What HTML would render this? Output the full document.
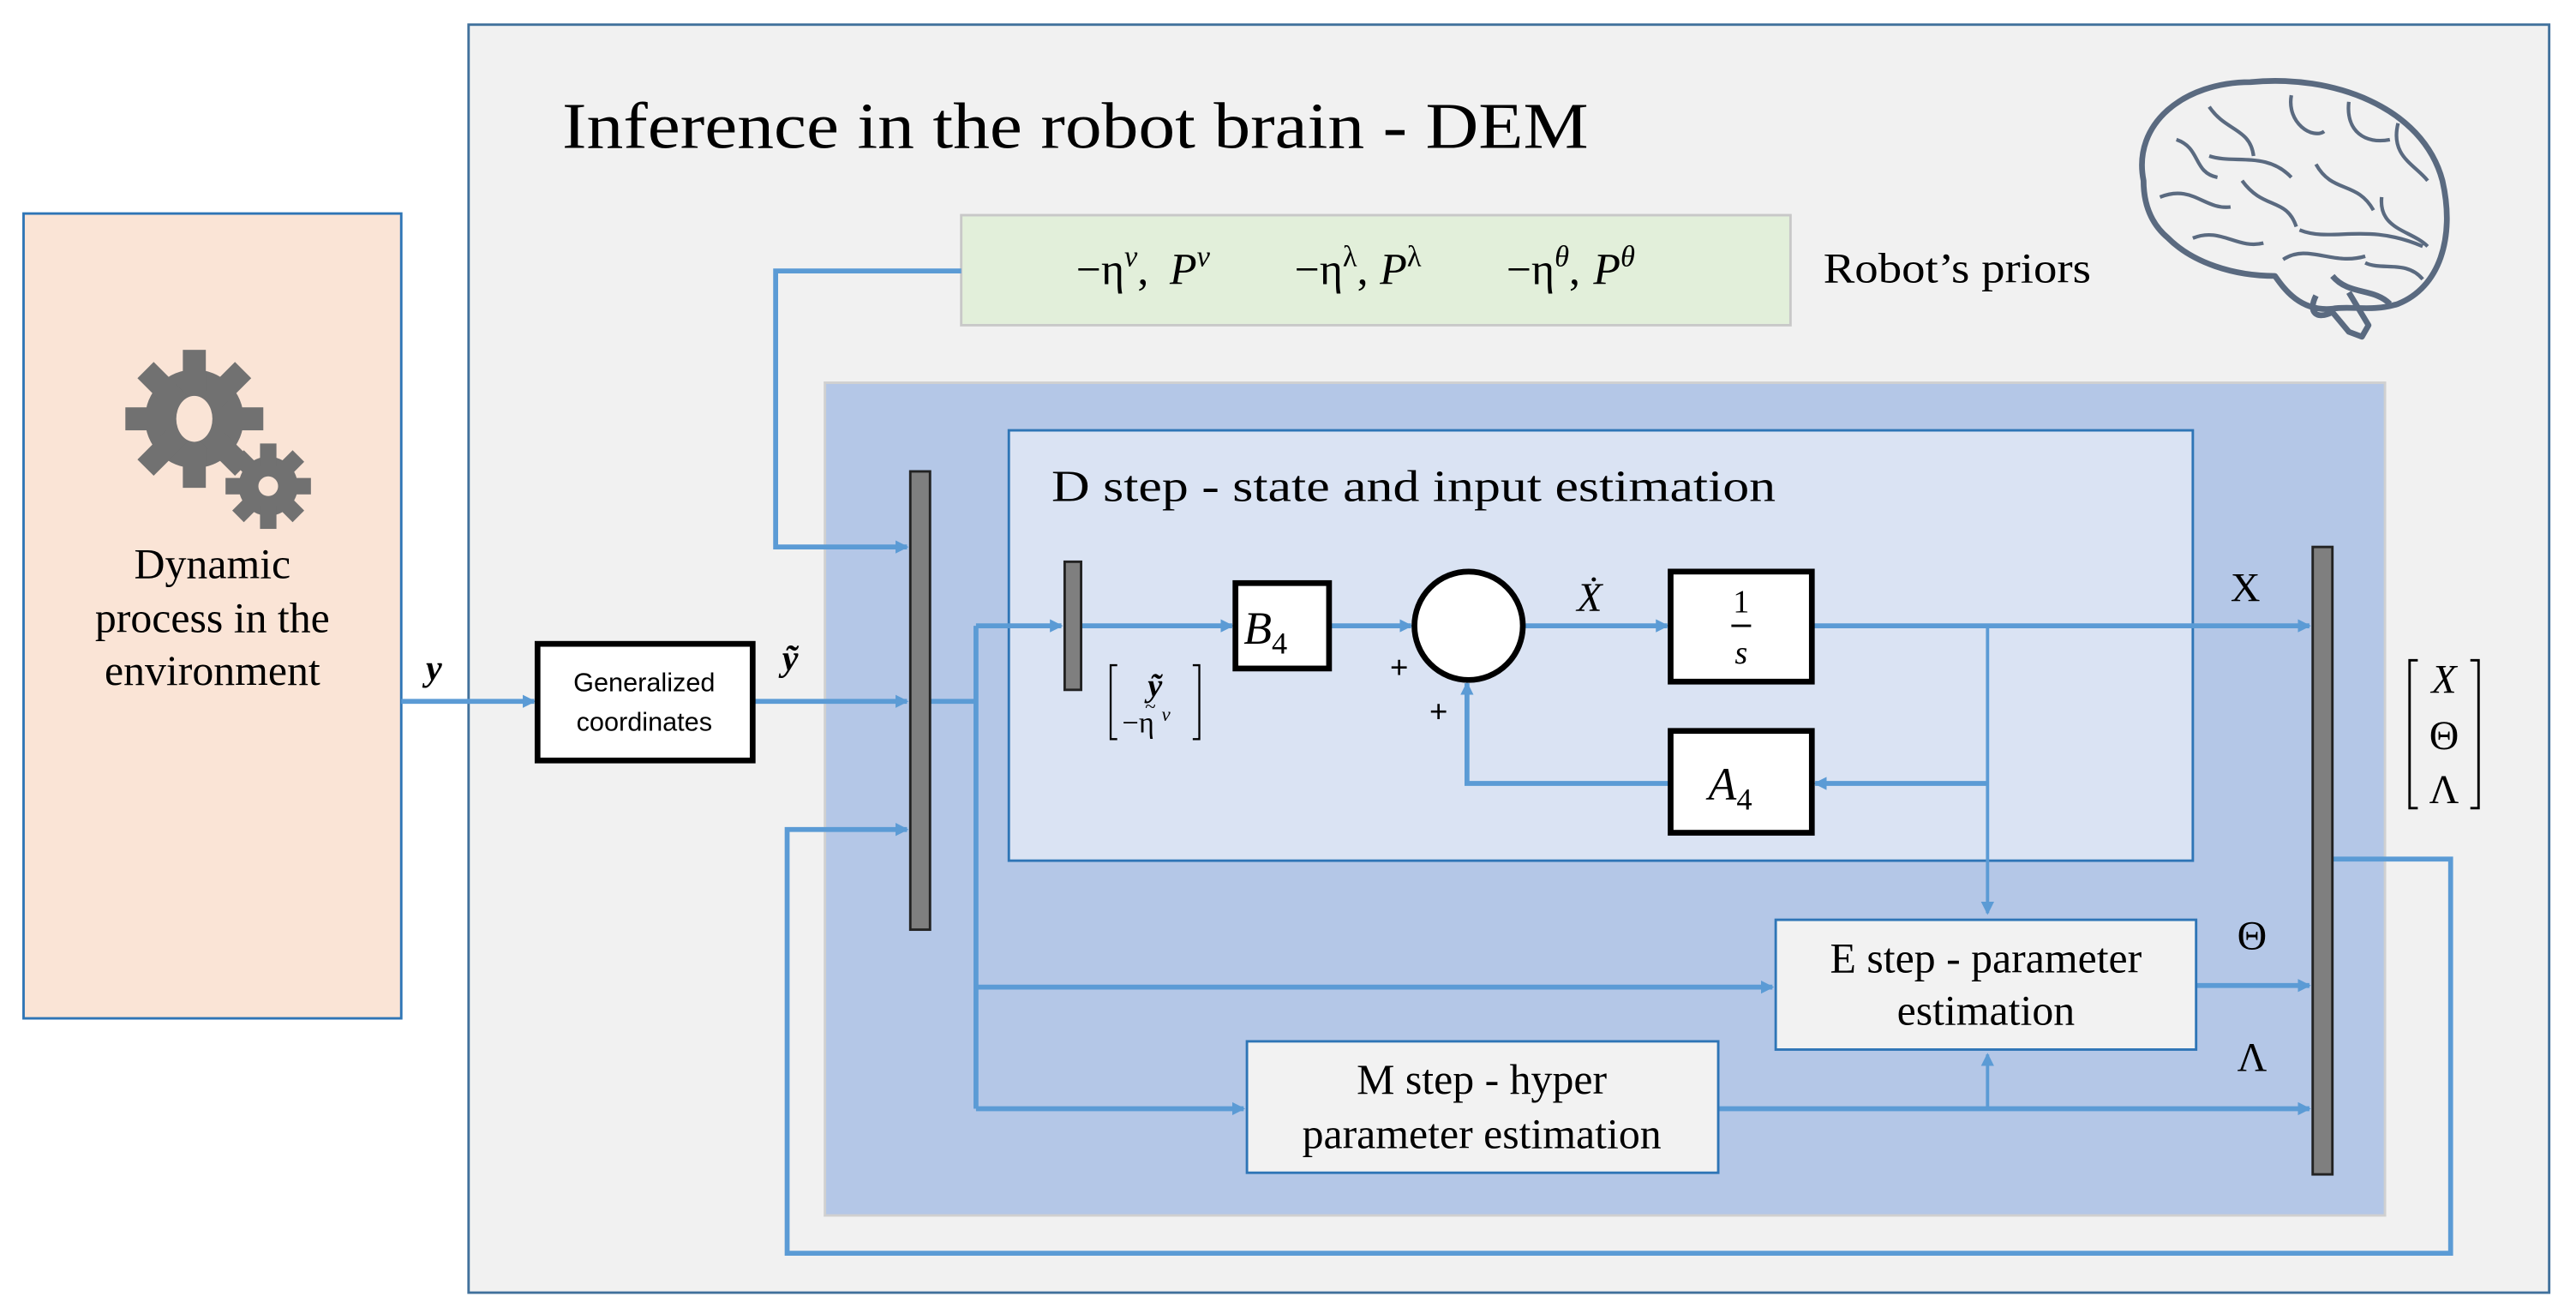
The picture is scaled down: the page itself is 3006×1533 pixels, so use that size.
<!DOCTYPE html>
<html><head><meta charset="utf-8"><style>
html,body{margin:0;padding:0;background:#fff}
svg{display:block}
text{font-family:"Liberation Serif",serif;fill:#000}
.s{font-family:"Liberation Sans",sans-serif}
</style></head><body>
<svg width="3006" height="1533" viewBox="0 0 1568 800" xmlns="http://www.w3.org/2000/svg">
<defs>
<marker id="a" markerWidth="8" markerHeight="8" refX="7" refY="4" orient="auto" markerUnits="userSpaceOnUse"><path d="M0,0 L8,4 L0,8 z" fill="#5b9bd5"/></marker>
</defs>
<rect x="14" y="130" width="230" height="490" fill="#fae4d6" stroke="#2e75b6" stroke-width="1.5"/>
<g fill="#717171">
<circle cx="118" cy="255" r="30"/>
<g transform="translate(118,255)">
<rect x="-7" y="-42" width="14" height="84"/><rect x="-7" y="-42" width="14" height="84" transform="rotate(45)"/><rect x="-7" y="-42" width="14" height="84" transform="rotate(90)"/><rect x="-7" y="-42" width="14" height="84" transform="rotate(135)"/>
</g>
<circle cx="163" cy="296" r="18"/>
<g transform="translate(163,296)">
<rect x="-5" y="-26" width="10" height="52"/><rect x="-5" y="-26" width="10" height="52" transform="rotate(45)"/><rect x="-5" y="-26" width="10" height="52" transform="rotate(90)"/><rect x="-5" y="-26" width="10" height="52" transform="rotate(135)"/>
</g>
</g>
<ellipse cx="118" cy="255" rx="11" ry="14" fill="#fae4d6"/>
<circle cx="163" cy="296" r="6" fill="#fae4d6"/>
<text x="129" y="352" font-size="26" text-anchor="middle">Dynamic</text>
<text x="129" y="385" font-size="26" text-anchor="middle">process in the</text>
<text x="129" y="417" font-size="26" text-anchor="middle">environment</text>
<rect x="285" y="15" width="1267" height="772" fill="#f1f1f1" stroke="#41719c" stroke-width="1.5"/>
<text x="342" y="90" font-size="40" textLength="625" lengthAdjust="spacingAndGlyphs">Inference in the robot brain - DEM</text>
<g fill="none" stroke="#5a6a80" stroke-width="3.5" stroke-linejoin="round">
<path d="M1305,110 C1298,75 1330,50 1370,50 C1420,45 1475,65 1487,110 C1495,145 1485,175 1460,185 C1445,190 1430,186 1420,188 C1400,190 1390,175 1385,168 C1360,168 1335,160 1320,145 C1308,135 1305,122 1305,110 Z"/>
<path d="M1410,180 C1405,190 1410,195 1420,190 L1430,202 L1438,205 L1442,198 L1430,178"/>
<path d="M1420,168 C1430,180 1445,175 1455,185"/>
</g>
<g fill="none" stroke="#5a6a80" stroke-width="2.2">
<path d="M1325,85 C1340,90 1335,105 1350,108 M1345,65 C1355,80 1370,78 1372,95 M1395,58 C1392,75 1408,85 1415,80 M1430,62 C1428,80 1440,88 1455,85 M1460,75 C1455,95 1470,100 1478,110 M1315,120 C1335,112 1342,128 1358,126 M1365,110 C1378,128 1392,120 1398,138 M1410,100 C1420,118 1435,110 1445,128 M1450,120 C1448,140 1468,140 1478,150 M1335,145 C1352,138 1362,152 1378,148 M1390,158 C1405,148 1420,162 1440,156 M1400,140 C1420,148 1440,135 1475,150 M1345,95 C1360,100 1380,92 1395,108 M1440,160 C1450,165 1465,158 1475,170"/>
</g>
<rect x="585" y="131" width="505" height="67" fill="#e2efda" stroke="#c8c8c8" stroke-width="1.5"/>
<text x="655" y="173" font-size="27">−η<tspan font-style="italic" font-size="18" dy="-11">v</tspan><tspan dy="11">,</tspan></text>
<text x="712" y="173" font-size="27" font-style="italic">P<tspan font-size="18" dy="-11">v</tspan></text>
<text x="788" y="173" font-size="27">−η<tspan font-size="18" dy="-11">λ</tspan><tspan dy="11">,</tspan></text>
<text x="840" y="173" font-size="27" font-style="italic">P<tspan font-size="18" font-style="normal" dy="-11">λ</tspan></text>
<text x="917" y="173" font-size="27">−η<tspan font-style="italic" font-size="18" dy="-11">θ</tspan><tspan dy="11">,</tspan></text>
<text x="970" y="173" font-size="27" font-style="italic">P<tspan font-size="18" dy="-11">θ</tspan></text>
<text x="1110" y="172" font-size="26" textLength="163" lengthAdjust="spacingAndGlyphs">Robot’s priors</text>
<rect x="502" y="233" width="950" height="507" fill="#b4c7e7" stroke="#d0d0d0" stroke-width="1.5"/>
<rect x="614" y="262" width="721" height="262" fill="#dae3f3" stroke="#2e75b6" stroke-width="1.5"/>
<text x="640" y="305" font-size="27" textLength="441" lengthAdjust="spacingAndGlyphs">D step - state and input estimation</text>
<g stroke="#5b9bd5" stroke-width="3" fill="none">
<path d="M244,427 H325" marker-end="url(#a)"/>
<path d="M458,427 H552" marker-end="url(#a)"/>
<path d="M566,427 H594"/>
<path d="M594,381 V675"/>
<path d="M594,381 H646" marker-end="url(#a)"/>
<path d="M658,381 H750" marker-end="url(#a)"/>
<path d="M809,381 H859" marker-end="url(#a)"/>
<path d="M927,381 H1015" marker-end="url(#a)"/>
<path d="M1103,381 H1406" marker-end="url(#a)"/>
<path d="M1210,381 V556" stroke-width="2" marker-end="url(#a)"/>
<path d="M1210,477 H1105" marker-end="url(#a)"/>
<path d="M1017,477 H893 V416" marker-end="url(#a)"/>
<path d="M594,601 H1079" marker-end="url(#a)"/>
<path d="M1337,600 H1406" marker-end="url(#a)"/>
<path d="M594,675 H757" marker-end="url(#a)"/>
<path d="M1046,675 H1406" marker-end="url(#a)"/>
<path d="M1210,675 V642" stroke-width="2" marker-end="url(#a)"/>
<path d="M585,165 H472 V333 H552" marker-end="url(#a)"/>
<path d="M1420,523 H1492 V763 H479 V505 H552" marker-end="url(#a)"/>
</g>
<rect x="554" y="287" width="12" height="279" fill="#7f7f7f" stroke="#222" stroke-width="1.5"/>
<rect x="648" y="342" width="10" height="78" fill="#7f7f7f" stroke="#222" stroke-width="1.5"/>
<rect x="1408" y="333" width="12" height="382" fill="#7f7f7f" stroke="#222" stroke-width="1.5"/>
<rect x="327" y="392" width="131" height="71" fill="#fff" stroke="#000" stroke-width="3.5"/>
<text class="s" x="392" y="421" font-size="16" text-anchor="middle">Generalized</text>
<text class="s" x="392" y="445" font-size="16" text-anchor="middle">coordinates</text>
<rect x="752" y="355" width="57" height="52" fill="#fff" stroke="#000" stroke-width="3.5"/>
<text x="757" y="392" font-size="28" font-style="italic">B<tspan font-size="19" dy="6" font-style="normal">4</tspan></text>
<circle cx="894" cy="381" r="33" fill="#fff" stroke="#000" stroke-width="3.5"/>
<rect x="1017" y="348" width="86" height="67" fill="#fff" stroke="#000" stroke-width="3.5"/>
<text x="1060" y="373" font-size="20" text-anchor="middle">1</text>
<line x1="1054" y1="381" x2="1066" y2="381" stroke="#000" stroke-width="1.5"/>
<text x="1060" y="404" font-size="20" font-style="italic" text-anchor="middle">s</text>
<rect x="1017" y="445" width="86" height="62" fill="#fff" stroke="#000" stroke-width="3.5"/>
<text x="1040" y="487" font-size="28" font-style="italic">A<tspan font-size="19" dy="6" font-style="normal">4</tspan></text>
<rect x="1081" y="560" width="256" height="79" fill="#f2f2f2" stroke="#2e75b6" stroke-width="1.5"/>
<text x="1209" y="592" font-size="26" text-anchor="middle">E step - parameter</text>
<text x="1209" y="624" font-size="26" text-anchor="middle">estimation</text>
<rect x="759" y="634" width="287" height="80" fill="#f2f2f2" stroke="#2e75b6" stroke-width="1.5"/>
<text x="902" y="666" font-size="26" text-anchor="middle">M step - hyper</text>
<text x="902" y="699" font-size="26" text-anchor="middle">parameter estimation</text>
<text x="259" y="414" font-size="22" font-style="italic" font-weight="bold">y</text>
<text x="476" y="408" font-size="22" font-style="italic" font-weight="bold">ỹ</text>
<text x="960" y="372" font-size="25" font-style="italic">Ẋ</text>
<text x="1358" y="366" font-size="25">X</text>
<text x="1362" y="578" font-size="25">Θ</text>
<text x="1362" y="652" font-size="25">Λ</text>
<text x="846" y="413" font-size="20" font-weight="bold">+</text>
<text x="870" y="440" font-size="20" font-weight="bold">+</text>
<path d="M680,405 H676 V450 H680 M726,405 H730 V450 H726" fill="none" stroke="#000" stroke-width="1.2"/>
<text x="703" y="424" font-size="20" font-style="italic" font-weight="bold" text-anchor="middle">ỹ</text>
<text x="683" y="446" font-size="18">−η</text>
<text x="697" y="434" font-size="12">~</text>
<text x="707" y="439" font-size="12" font-style="italic">v</text>
<path d="M1472,402 H1467 V492 H1472 M1504,402 H1509 V492 H1504" fill="none" stroke="#000" stroke-width="1.5"/>
<text x="1488" y="422" font-size="25" font-style="italic" text-anchor="middle">X</text>
<text x="1488" y="456" font-size="25" text-anchor="middle">Θ</text>
<text x="1488" y="489" font-size="25" text-anchor="middle">Λ</text>
</svg>
</body></html>
